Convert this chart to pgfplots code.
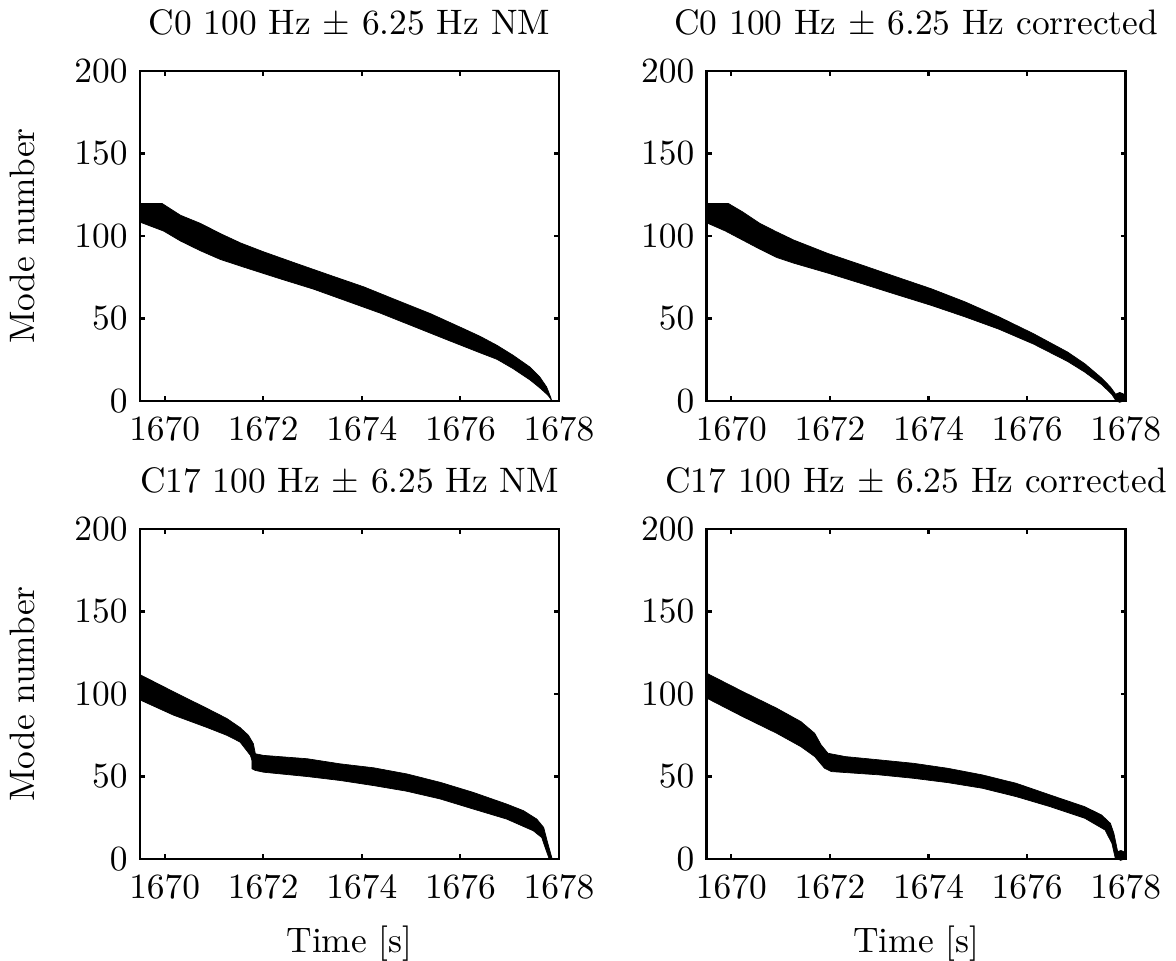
\documentclass[border=0pt]{standalone}
\usepackage{pgfplots}
\pgfplotsset{compat=1.18}
\begin{document}
\begin{tikzpicture}
\useasboundingbox (0,0) rectangle (332.2pt,271.19pt);
\pgfplotsset{
  panel/.style={
    scale only axis, width=118.36pt, height=93.22pt,
    anchor=south west,
    xmin=1669.5, xmax=1678, ymin=0, ymax=200,
    xtick={1670,1672,1674,1676,1678}, ytick={0,50,100,150,200},
    /pgf/number format/1000 sep={},
    tick align=inside, major tick length=1.4pt,
    axis line style={line width=0.8pt},
    major tick style={line width=0.6pt, black},
    xticklabel style={yshift=-1.3pt},
    ylabel style={at={(axis description cs:-0.222,0.5)}, anchor=south},
    xlabel style={yshift=-0.8pt},
  },
  band/.style={fill=black, draw=black, line width=0.2pt},
}
% ---------------- C0 NM ----------------
\begin{axis}[panel, at={(39.55pt,157.91pt)},
  title={C0 100 Hz $\pm$ 6.25 Hz NM}, ylabel={Mode number}]
\addplot[band] coordinates {
 (1669.51,119.7) (1669.95,119.7) (1670.32,112.6) (1670.73,107.6) (1671.13,101.5)
 (1671.54,95.8) (1672.01,90.4) (1672.68,83.3) (1673.36,76.2) (1674.04,69.2)
 (1674.71,61.1) (1675.39,53.0) (1676.06,43.9) (1676.40,39.2) (1676.74,33.8)
 (1677.07,27.7) (1677.41,20.6) (1677.61,14.6) (1677.75,8.5) (1677.83,2.4) (1677.85,0.4)
 (1677.85,0.4) (1677.78,3.4) (1677.61,8.0) (1677.41,12.8) (1677.07,19.6)
 (1676.74,25.3) (1676.40,29.2) (1675.72,37.2) (1675.05,45.2) (1674.37,53.3)
 (1673.70,60.5) (1673.02,67.8) (1672.35,74.0) (1671.67,80.5) (1671.13,85.8)
 (1670.73,91.0) (1670.32,97.0) (1669.98,103.0) (1669.51,108.3)
} -- cycle;
\end{axis}
% ---------------- C0 corrected ----------------
\begin{axis}[panel, at={(199.64pt,157.91pt)},
  title={C0 100 Hz $\pm$ 6.25 Hz corrected}]
\addplot[band] coordinates {
 (1669.50,119.7) (1669.94,119.7) (1670.23,114.6) (1670.58,107.6) (1670.92,102.5)
 (1671.27,97.5) (1671.62,93.4) (1671.96,89.4) (1672.66,82.3) (1673.35,75.2)
 (1674.05,68.1) (1674.74,60.1) (1675.43,51.0) (1676.13,40.8) (1676.82,29.7)
 (1677.17,22.6) (1677.51,14.0) (1677.69,8.5) (1677.79,4.4) (1677.85,0.2)
 (1677.80,0.2) (1677.72,4.0) (1677.51,10.0) (1677.17,17.5) (1676.82,24.0)
 (1676.13,34.5) (1675.43,43.5) (1674.74,51.0) (1674.05,58.0) (1673.35,64.5)
 (1672.66,71.0) (1671.96,77.5) (1671.27,83.5) (1670.92,87.0) (1670.58,92.0)
 (1670.23,97.5) (1669.88,103.0) (1669.50,108.0)
} -- cycle;
\addplot[only marks, mark=*, mark size=1.3pt, black] coordinates {(1677.88,2.2)};
\end{axis}
% ---------------- C17 NM ----------------
\begin{axis}[panel, at={(39.55pt,28.53pt)},
  title={C17 100 Hz $\pm$ 6.25 Hz NM}, ylabel={Mode number}, xlabel={Time [s]}]
\addplot[band] coordinates {
 (1669.51,111.6) (1670.18,101.4) (1670.86,91.3) (1671.26,85.2) (1671.53,79.7)
 (1671.70,75.0) (1671.80,69.9) (1671.84,63.8) (1672.01,62.8) (1672.89,60.8)
 (1673.56,57.7) (1674.24,55.3) (1674.91,51.6) (1675.59,46.5) (1676.26,40.4)
 (1676.94,33.3) (1677.28,29.3) (1677.55,24.2) (1677.69,19.1) (1677.76,11.0)
 (1677.86,0.2)
 (1677.80,0.2) (1677.72,6.9) (1677.65,13.0) (1677.48,17.1) (1676.94,24.2)
 (1676.26,30.3) (1675.59,36.4) (1674.91,41.1) (1674.24,44.5) (1673.56,47.6)
 (1672.89,50.0) (1672.01,52.6) (1671.84,53.7) (1671.77,54.7) (1671.77,59.8)
 (1671.74,62.8) (1671.53,70.9) (1671.26,75.0) (1670.86,79.7) (1670.18,87.2)
 (1669.51,96.3)
} -- cycle;
\end{axis}
% ---------------- C17 corrected ----------------
\begin{axis}[panel, at={(199.64pt,28.53pt)},
  title={C17 100 Hz $\pm$ 6.25 Hz corrected}, xlabel={Time [s]}]
\addplot[band] coordinates {
 (1669.50,112.6) (1670.23,101.5) (1670.92,91.4) (1671.41,83.3) (1671.69,76.2)
 (1671.82,69.2) (1671.96,64.1) (1672.31,62.1) (1673.00,60.1) (1673.70,58.0)
 (1674.39,55.0) (1675.09,51.0) (1675.78,45.9) (1676.47,38.8) (1677.17,31.7)
 (1677.51,26.7) (1677.69,21.6) (1677.76,15.6) (1677.83,5.5) (1677.87,0.2)
 (1677.79,0.2) (1677.72,9.5) (1677.58,17.6) (1677.17,24.7) (1676.47,31.7)
 (1675.78,37.8) (1675.09,42.9) (1674.39,46.3) (1673.70,48.9) (1673.00,51.0)
 (1672.03,53.0) (1671.89,55.0) (1671.69,62.1) (1671.41,68.1) (1670.92,76.2)
 (1670.23,86.3) (1669.50,97.5)
} -- cycle;
\addplot[only marks, mark=*, mark size=1.3pt, black] coordinates {(1677.90,2.2)};
\end{axis}
\end{tikzpicture}
\end{document}
